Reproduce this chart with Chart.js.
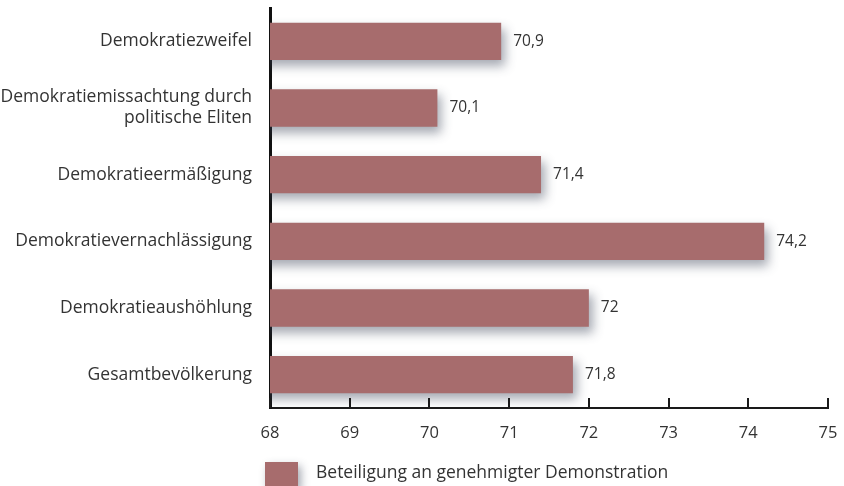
<!DOCTYPE html>
<html>
<head>
<meta charset="utf-8">
<script src="https://cdn.jsdelivr.net/npm/chart.js@4/dist/chart.umd.min.js"></script>
<style>
    html, body { margin: 0; padding: 0; background: #fff; }
    #wrap { width: 844px; height: 486px; position: relative; }
</style>
</head>
<body>
<div id="wrap"><canvas id="chart" width="844" height="486"></canvas></div>
<script>
// --- Data ---
const categories = [
    'Demokratiezweifel',
    ['Demokratiemissachtung durch', 'politische Eliten'],
    'Demokratieermäßigung',
    'Demokratievernachlässigung',
    'Demokratieaushöhlung',
    'Gesamtbevölkerung'
];
const values = [70.9, 70.1, 71.4, 74.2, 72, 71.8];
const seriesLabel = 'Beteiligung an genehmigter Demonstration';
const xTicks = [68, 69, 70, 71, 72, 73, 74, 75];

const BAR_COLOR = '#a76c6d';
const FONT = '"Open Sans", "Noto Sans", sans-serif';
const formatDe = (v) => String(v).replace('.', ',');

// shadow behind bars
const barShadow = {
    id: 'barShadow',
    beforeDatasetsDraw(chart) {
        const ctx = chart.ctx;
        ctx.save();
        ctx.shadowColor = 'rgba(55, 65, 85, 0.45)';
        ctx.shadowBlur = 10;
        ctx.shadowOffsetX = 4;
        ctx.shadowOffsetY = 6;
    },
    afterDatasetsDraw(chart) {
        chart.ctx.restore();
    }
};

// value labels, inward x tick marks, custom legend
const extras = {
    id: 'extras',
    afterDraw(chart) {
        const ctx = chart.ctx;
        const area = chart.chartArea;
        const xScale = chart.scales.x;

        ctx.save();
        ctx.font = '15.5px ' + FONT;
        ctx.fillStyle = '#333';
        ctx.textBaseline = 'middle';
        ctx.textAlign = 'left';
        chart.getDatasetMeta(0).data.forEach((bar, i) => {
            ctx.fillText(formatDe(values[i]), bar.x + 12, bar.y);
        });

        ctx.strokeStyle = '#1a1a1a';
        ctx.lineWidth = 2;
        xTicks.forEach(t => {
            const x = Math.round(xScale.getPixelForValue(t));
            ctx.beginPath();
            ctx.moveTo(x, area.bottom);
            ctx.lineTo(x, area.bottom - 10);
            ctx.stroke();
        });

        // legend
        ctx.shadowColor = 'rgba(55, 65, 85, 0.45)';
        ctx.shadowBlur = 8;
        ctx.shadowOffsetX = 3;
        ctx.shadowOffsetY = 4;
        ctx.fillStyle = BAR_COLOR;
        ctx.fillRect(265, 462, 33, 26);
        ctx.shadowColor = 'transparent';
        ctx.fillStyle = '#333';
        ctx.font = '17.5px ' + FONT;
        ctx.fillText(seriesLabel, 316, 473);
        ctx.restore();
    }
};

new Chart(document.getElementById('chart'), {
    type: 'bar',
    data: {
        labels: categories,
        datasets: [{
            label: seriesLabel,
            data: values,
            backgroundColor: BAR_COLOR,
            borderWidth: 0,
            categoryPercentage: 0.56,
            barPercentage: 1.0
        }]
    },
    options: {
        indexAxis: 'y',
        responsive: false,
        animation: false,
        devicePixelRatio: 1,
        layout: { padding: { left: 0, right: 16, top: 8, bottom: 0 } },
        plugins: {
            legend: { display: false },
            tooltip: { enabled: false }
        },
        scales: {
            x: {
                min: 68,
                max: 75,
                afterBuildTicks(scale) {
                    scale.ticks = xTicks.map(v => ({ value: v }));
                },
                afterFit(scale) {
                    scale.height = 78;
                    scale.paddingLeft = 0;
                    scale.paddingRight = 0;
                },
                grid: { display: false, drawTicks: false },
                border: { display: true, color: '#1a1a1a', width: 2 },
                ticks: {
                    padding: 15,
                    color: '#333',
                    font: { family: FONT, size: 16.5 },
                    maxRotation: 0
                }
            },
            y: {
                afterFit(scale) {
                    scale.width = 270;
                    scale.paddingTop = 0;
                    scale.paddingBottom = 0;
                },
                grid: { display: false, drawTicks: false },
                border: { display: true, color: '#111', width: 3 },
                ticks: {
                    padding: 18,
                    color: '#333',
                    font: { family: FONT, size: 17.5 },
                    crossAlign: 'near'
                }
            }
        }
    },
    plugins: [barShadow, extras]
});
</script>
</body>
</html>
